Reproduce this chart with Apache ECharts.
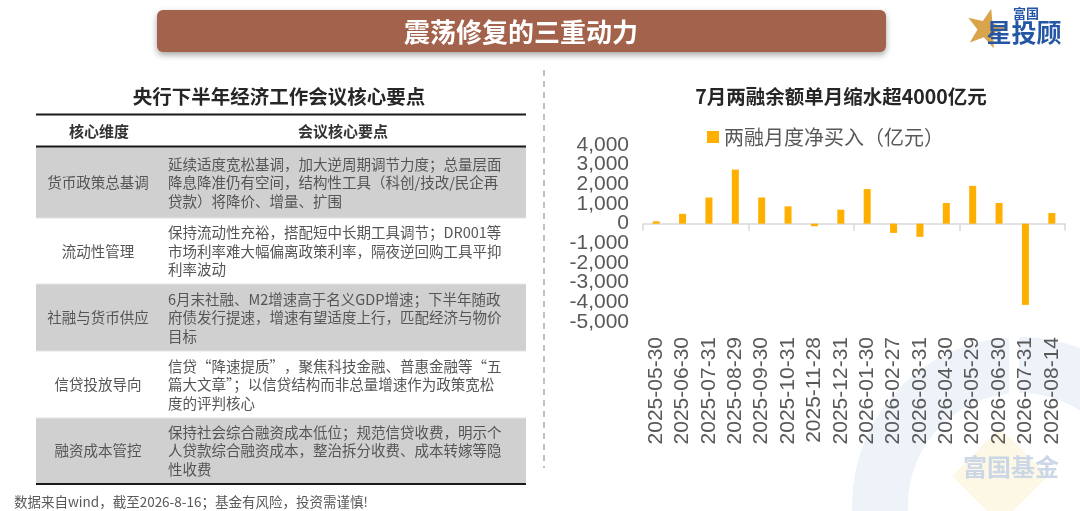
<!DOCTYPE html>
<html><head><meta charset="utf-8">
<script src="https://cdn.jsdelivr.net/npm/echarts@6/dist/echarts.min.js"></script>
<style>html,body{margin:0;padding:0;background:#fff}#c{width:1080px;height:511px}</style>
</head><body><div id="c"></div>
<script>
// ---- data ----
const categories = ['2025-05-30','2025-06-30','2025-07-31','2025-08-29','2025-09-30','2025-10-31','2025-11-28','2025-12-31','2026-01-30','2026-02-27','2026-03-31','2026-04-30','2026-05-29','2026-06-30','2026-07-31','2026-08-14'];
const netBuy = [120, 500, 1330, 2750, 1330, 880, -130, 710, 1760, -470, -670, 1050, 1920, 1050, -4130, 540];
const seriesName = '两融月度净买入（亿元）';
const yMin = -5000, yMax = 4000, yStep = 1000;

const pageTitle = '震荡修复的三重动力';
const tableTitle = '央行下半年经济工作会议核心要点';
const chartTitle = '7月两融余额单月缩水超4000亿元';
const tableHeaders = ['核心维度', '会议核心要点'];
const tableDims = ['货币政策总基调', '流动性管理', '社融与货币供应', '信贷投放导向', '融资成本管控'];
const tablePoints = [
  '延续适度宽松基调，加大逆周期调节力度；总量层面\n降息降准仍有空间，结构性工具（科创/技改/民企再\n贷款）将降价、增量、扩围',
  '保持流动性充裕，搭配短中长期工具调节；DR001等\n市场利率难大幅偏离政策利率，隔夜逆回购工具平抑\n利率波动',
  '6月末社融、M2增速高于名义GDP增速；下半年随政\n府债发行提速，增速有望适度上行，匹配经济与物价\n目标',
  '信贷“降速提质”，聚焦科技金融、普惠金融等“五\n篇大文章”；以信贷结构而非总量增速作为政策宽松\n度的评判核心',
  '保持社会综合融资成本低位；规范信贷收费，明示个\n人贷款综合融资成本，整治拆分收费、成本转嫁等隐\n性收费'
];
const footNote = '数据来自wind，截至2026-8-16；基金有风险，投资需谨慎!';
const logoSmall = '富国';
const logoBig = '星投顾';
const watermarkText = '富国基金';

// ---- layout ----
const CJK = '"Noto Sans CJK SC", "Noto Sans", sans-serif';
const NUM = '"Liberation Sans", Arial, "Noto Sans CJK SC", sans-serif';
const G = [];

// watermark
G.push({type:'ring', z:0, shape:{cx:1020, cy:505, r:168, r0:112}, style:{fill:'#EEF3F9'}});
G.push({type:'rect', z:0, shape:{x:1009, y:320, width:10, height:110}, style:{fill:'#ffffff'}});
G.push({type:'polygon', z:0, shape:{points:[[1000,428],[1048,476],[1000,524],[952,476]]}, style:{fill:'#FDF7E6'}});
G.push({type:'text', z:0, x:1011, y:467, style:{text:watermarkText, fill:'#CBD7E6', fontSize:24, fontWeight:'bold', fontFamily:CJK, align:'center', verticalAlign:'middle'}});

// banner
G.push({type:'rect', z:10, shape:{x:157, y:10, width:729, height:42, r:6},
  style:{fill:'#A3624C', shadowBlur:6, shadowOffsetY:3, shadowColor:'rgba(0,0,0,0.35)'}});
G.push({type:'text', z:11, x:521, y:32, style:{text:pageTitle, fill:'#ffffff', fontSize:26, fontWeight:'bold', fontFamily:CJK, align:'center', verticalAlign:'middle'}});

// logo
(function(){
  const cx = 986, cy = 29, R = 21, r = 8.5, pts = [];
  for (let i = 0; i < 10; i++) {
    const a = -Math.PI/2 + 0.25 + i*Math.PI/5;
    const rr = i % 2 ? r : R;
    pts.push([cx + rr*Math.cos(a), cy + rr*Math.sin(a)]);
  }
  G.push({type:'polygon', z:10, shape:{points:pts}, style:{fill:'#D9A54C'}});
})();
G.push({type:'text', z:11, x:1026, y:13, style:{text:logoSmall, fill:'#2456A5', fontSize:13, fontWeight:'bold', fontFamily:CJK, align:'center', verticalAlign:'middle'}});
G.push({type:'text', z:11, x:1024, y:32, style:{text:logoBig, fill:'#2456A5', fontSize:25, fontWeight:'bold', fontFamily:CJK, align:'center', verticalAlign:'middle'}});

// dashed divider
G.push({type:'line', z:10, shape:{x1:544, y1:70, x2:544, y2:468}, style:{stroke:'#BFBFBF', lineWidth:2, lineDash:[6,5]}});

// table
const tL = 36, tR = 526, tSplit = 160;
const rowEdges = [147, 218, 284, 351, 418, 483];
G.push({type:'text', z:10, x:279, y:97, style:{text:tableTitle, fill:'#262626', fontSize:19.5, fontWeight:'bold', fontFamily:CJK, align:'center', verticalAlign:'middle'}});
for (let i = 0; i < tableDims.length; i++) {
  const y0 = rowEdges[i], y1 = rowEdges[i+1];
  G.push({type:'rect', z:9, shape:{x:tL, y:y0, width:tR-tL, height:y1-y0}, style:{fill: i % 2 === 0 ? '#D0D0D0' : '#ffffff'}});
  if (i > 0) G.push({type:'line', z:9, shape:{x1:tL, y1:y0, x2:tR, y2:y0}, style:{stroke:'#E3E3E3', lineWidth:1}});
  const cy = (y0 + y1) / 2;
  G.push({type:'text', z:10, x:(tL+tSplit)/2, y:cy, style:{text:tableDims[i], fill:'#555555', fontSize:14.5, fontFamily:CJK, align:'center', verticalAlign:'middle'}});
  G.push({type:'text', z:10, x:168, y:cy, style:{text:tablePoints[i], fill:'#555555', fontSize:14.5, lineHeight:18.5, fontFamily:CJK, align:'left', verticalAlign:'middle'}});
}
G.push({type:'line', z:10, shape:{x1:tL, y1:114.5, x2:tR, y2:114.5}, style:{stroke:'#1a1a1a', lineWidth:2}});
G.push({type:'line', z:10, shape:{x1:tL, y1:146.5, x2:tR, y2:146.5}, style:{stroke:'#1a1a1a', lineWidth:2}});
G.push({type:'line', z:10, shape:{x1:tL, y1:484, x2:tR, y2:484}, style:{stroke:'#1a1a1a', lineWidth:2}});
G.push({type:'text', z:10, x:99, y:131, style:{text:tableHeaders[0], fill:'#333333', fontSize:15, fontWeight:'bold', fontFamily:CJK, align:'center', verticalAlign:'middle'}});
G.push({type:'text', z:10, x:343, y:131, style:{text:tableHeaders[1], fill:'#333333', fontSize:15, fontWeight:'bold', fontFamily:CJK, align:'center', verticalAlign:'middle'}});

// footnote
G.push({type:'text', z:10, x:14, y:502, style:{text:footNote, fill:'#595959', fontSize:13.5, fontFamily:CJK, align:'left', verticalAlign:'middle'}});

// chart title
G.push({type:'text', z:10, x:841, y:97, style:{text:chartTitle, fill:'#262626', fontSize:19.5, fontWeight:'bold', fontFamily:CJK, align:'center', verticalAlign:'middle'}});

// y axes: same scale twice, each labelling alternate ticks so that the
// library's overlap hiding never drops a label
function yAxisDef(parity) {
  return {type:'value', min:yMin, max:yMax, interval:yStep, position:'left', offset:0,
    axisLine:{show:false}, axisTick:{show:false}, splitLine:{show:false},
    axisLabel:{color:'#595959', fontSize:21, fontFamily:NUM, margin:14, showMinLabel:true, showMaxLabel:true,
      formatter: v => (Math.abs(Math.round(v / yStep)) % 2 === parity ? v.toLocaleString('en-US') : '')}};
}

const chart = echarts.init(document.getElementById('c'), null, {renderer:'canvas'});
chart.setOption({
  animation: false,
  backgroundColor: '#ffffff',
  graphic: G,
  legend: {
    data: [seriesName], left: 702, top: 122, icon: 'rect', itemWidth: 12, itemHeight: 12, itemGap: 7,
    textStyle: {color:'#595959', fontSize:20, fontFamily:CJK}
  },
  grid: {left:643, right:15, top:145, bottom:189, containLabel:false},
  xAxis: [
    {type:'category', data:categories, axisLine:{onZero:true, onZeroAxisIndex:0, lineStyle:{color:'#D9D9D9', width:1.5}},
     axisTick:{show:true, length:7, lineStyle:{color:'#D9D9D9', width:1.5}}, axisLabel:{show:false}, splitLine:{show:false}},
    {type:'category', data:categories, position:'bottom', axisLine:{show:false, onZero:false}, axisTick:{show:false},
     axisLabel:{show:true, rotate:90, margin:15, interval:0, color:'#595959', fontSize:21, fontFamily:NUM}}
  ],
  yAxis: [yAxisDef(0), yAxisDef(1)],
  series: [{name:seriesName, type:'bar', xAxisIndex:0, yAxisIndex:0, data:netBuy, barWidth:7, itemStyle:{color:'#FFAF00'}, z:5}]
});
</script></body></html>
